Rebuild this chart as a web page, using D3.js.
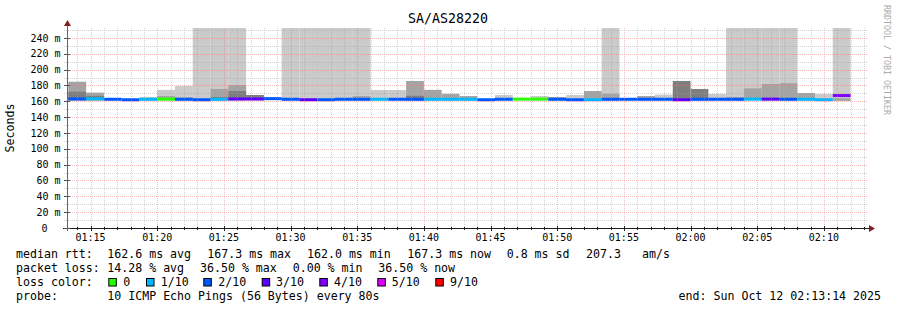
<!DOCTYPE html>
<html><head><meta charset="utf-8">
<script src="https://cdn.jsdelivr.net/npm/d3@7"></script>
<style>
body{margin:0;background:#fff}
svg{display:block}
text{font-family:"DejaVu Sans Mono",monospace;white-space:pre}
</style>
</head><body><svg id="c" width="897" height="310"></svg>
<script>
// ---------- data ----------
const title = "SA/AS28220";
const startTime = "01:13:14", endTime = "02:13:14";
const binSeconds = 80;
const binStart = ["01:13:20","01:14:40","01:16:00","01:17:20","01:18:40","01:20:00","01:21:20","01:22:40",
  "01:24:00","01:25:20","01:26:40","01:28:00","01:29:20","01:30:40","01:32:00","01:33:20","01:34:40",
  "01:36:00","01:37:20","01:38:40","01:40:00","01:41:20","01:42:40","01:44:00","01:45:20","01:46:40",
  "01:48:00","01:49:20","01:50:40","01:52:00","01:53:20","01:54:40","01:56:00","01:57:20","01:58:40",
  "02:00:00","02:01:20","02:02:40","02:04:00","02:05:20","02:06:40","02:08:00","02:09:20","02:10:40"];
// median rtt (ms)
const median = [163.0,163.2,162.6,162.0,162.6,162.8,162.6,162.0,162.6,163.0,163.0,163.4,162.6,162.0,162.0,
  162.6,162.6,162.6,162.6,162.6,162.6,162.6,162.6,162.0,162.6,162.8,162.8,162.6,162.0,162.0,162.6,162.6,
  162.6,162.6,162.0,162.6,162.6,162.6,162.8,162.8,162.6,162.6,162.0,167.3];
// lost pings (out of 10)
const loss = [1.5,0.9,1.5,1.6,0.9,0,1.5,1.6,0.9,2.6,2.6,1.4,1.5,2.7,1.6,1.5,1.5,0.9,1.5,1.5,0.9,0.8,0.9,
  1.6,1.5,0,0,1.5,1.6,1.0,1.5,1.5,1.5,1.5,2.7,1.5,1.4,1.5,0.9,2.6,1.5,0.9,1.0,3.65];
// smoke: lowest ping and tops of outer / middle / inner bands (ms), null = none
const smokeLow = [161.2,161.2,161.4,161.0,161.2,161.4,161.2,161.0,161.2,161.4,161.4,161.6,161.2,161.0,161.0,
  161.2,161.2,161.2,161.2,161.2,161.2,161.2,161.2,161.0,161.2,161.4,161.4,161.2,161.0,161.0,161.2,161.2,
  161.2,161.2,161.0,161.2,161.2,161.2,161.4,161.4,161.2,161.2,161.0,160.6];
const smokeOuter = [null,null,null,null,165.5,174.5,179.4,320,320,320,null,null,320,320,320,320,320,174.3,
  174.3,null,null,null,null,null,168,null,166.7,null,168,null,320,null,null,168.4,null,null,169.3,320,
  320,320,320,null,169.3,320];
const smokeMid = [184.8,171,null,null,null,166.7,165,null,175.6,180.6,null,null,null,null,null,null,166.7,
  null,null,185.7,174.5,169.5,166.7,null,null,null,null,165.5,null,173,169.5,null,166.7,null,null,null,
  null,165.5,176.4,181.9,183,170.5,null,164];
const smokeInner = [172.2,167,null,null,null,null,null,null,165.5,173,168,null,null,null,null,null,null,
  null,null,167,null,null,null,null,null,null,null,null,null,null,null,null,null,null,185.7,175.6,null,
  null,null,null,null,null,null,null];
const lossThresholds = [0,1,2,3,4,5,9];
const lossLabels = ["0","1/10","2/10","3/10","4/10","5/10","9/10"];
const lossColors = ["#26ff00","#00b8ff","#0059ff","#5e00ff","#7e00ff","#dd00ff","#ff0000"];
const yMax = 252.63;
const yTickVals = [0,20,40,60,80,100,120,140,160,180,200,220,240];
const legendLines = [
  [["median rtt:",16],["162.6 ms avg",107.3],["167.3 ms max",207.3],["162.0 ms min",307],["167.3 ms now",407.3],["0.8 ms sd",506.7],["207.3",586],["am/s",642]],
  [["packet loss:",16],["14.28 % avg",107.3],["36.50 % max",200],["0.00 % min",292.7],["36.50 % now",378.3]],
  [["loss color:",16]],
  [["probe:",16],["10 ICMP Echo Pings (56 Bytes) every 80s",107.3]]
];
const endText = "end: Sun Oct 12 02:13:14 2025";
const watermark = "RRDTOOL / TOBI OETIKER";

// ---------- chart ----------
const svg = d3.select("#c");
const T = s => { const [h,m,sec] = s.split(":").map(Number); return new Date(Date.UTC(2025,9,12,h,m,sec)); };
const t0 = T(startTime), t1 = T(endTime);
const x = d3.scaleUtc().domain([t0,t1]).range([67,867]);
const y = d3.scaleLinear().domain([0,yMax]).range([228,28]);
const px = v => Math.round(v)+0.5;

svg.append("defs").append("clipPath").attr("id","plot")
  .append("rect").attr("x",67).attr("y",28).attr("width",800).attr("height",200);

const bins = binStart.map((s,i)=>{
  const a = T(s), b = new Date(a.getTime()+binSeconds*1000);
  return {i, x0: Math.max(67, x(a)), x1: x(b)};
});

const plot = svg.append("g").attr("clip-path","url(#plot)");
const layers = [[smokeOuter,"#cacaca"],[smokeMid,"#a4a4a4"],[smokeInner,"#7e7e7e"]];
layers.forEach(([arr,col])=>{
  plot.append("g").selectAll("rect").data(bins.filter(b=>arr[b.i]!=null)).join("rect")
    .attr("x",b=>b.x0).attr("width",b=>b.x1-b.x0)
    .attr("y",b=>y(Math.min(arr[b.i],yMax+5)))
    .attr("height",b=>y(smokeLow[b.i])-y(Math.min(arr[b.i],yMax+5)))
    .attr("fill",col);
});

// grid
const majC = "rgba(235,120,120,0.5)", minC = "rgba(160,160,160,0.45)";
const grid = svg.append("g").attr("shape-rendering","crispEdges").attr("stroke-dasharray","1,1");
const minorMin = d3.utcMinute.range(t0,t1);
minorMin.forEach(t=>{
  const major = t.getUTCMinutes()%5===0;
  grid.append("line").attr("x1",px(x(t))).attr("x2",px(x(t))).attr("y1",28).attr("y2",228)
    .attr("stroke",major?majC:minC);
});
d3.range(10,yMax,10).forEach(v=>{
  const major = v%20===0;
  grid.append("line").attr("x1",64).attr("x2",868).attr("y1",px(y(v))).attr("y2",px(y(v)))
    .attr("stroke",major?majC:minC);
});

// median bands coloured by loss
const lossColor = l => { for (let k=0;k<lossThresholds.length;k++){ if (l<=lossThresholds[k]) return lossColors[k]; } return lossColors[lossColors.length-1]; };
plot.append("g").selectAll("rect").data(bins).join("rect")
  .attr("x",b=>b.x0).attr("width",b=>b.x1-b.x0)
  .attr("y",b=>y(median[b.i])-1.5).attr("height",3)
  .attr("fill",b=>lossColor(loss[b.i]));

// axes
const ax = svg.append("g").attr("shape-rendering","crispEdges");
ax.append("line").attr("x1",63).attr("x2",869).attr("y1",228.5).attr("y2",228.5).attr("stroke","#1f1f1f");
ax.append("line").attr("x1",67.5).attr("x2",67.5).attr("y1",231).attr("y2",24).attr("stroke","#666");
minorMin.forEach(t=>{
  const major = t.getUTCMinutes()%5===0;
  ax.append("line").attr("x1",px(x(t))).attr("x2",px(x(t))).attr("y1",major?226:227).attr("y2",major?231:230)
    .attr("stroke","#1f1f1f");
});
yTickVals.forEach(v=>{
  ax.append("line").attr("x1",64).attr("x2",70).attr("y1",px(y(v))).attr("y2",px(y(v))).attr("stroke","#555");
});
svg.append("path").attr("d","M67.5,20 L64,26 L71,26 Z").attr("fill","#801f1f");
svg.append("path").attr("d","M875,228.5 L869,225 L869,232 Z").attr("fill","#801f1f");

// tick labels
svg.append("g").selectAll("text").data(d3.utcMinute.every(5).range(t0,t1)).join("text")
  .attr("x",d=>x(d)).attr("y",241).attr("text-anchor","middle").attr("font-size","10px").attr("fill","#000")
  .text(d3.utcFormat("%H:%M"));
svg.append("g").selectAll("text").data(yTickVals).join("text")
  .attr("x",v=>v===0?47.5:60.5).attr("y",v=>y(v)+3.6).attr("text-anchor","end").attr("font-size","10px").attr("fill","#000")
  .text(v=>v===0?"0":v+" m");

// title, axis label, watermark
svg.append("text").attr("x",448).attr("y",23.3).attr("text-anchor","middle").attr("font-size","13.3px").text(title);
svg.append("text").attr("transform","translate(14,128) rotate(-90)").attr("text-anchor","middle")
  .attr("font-size","11.6px").text("Seconds");
svg.append("text").attr("transform","translate(884,5) rotate(90)").attr("font-size","8.3px")
  .attr("fill","#aaaaaa").text(watermark);

// legend
const lineY = [258.3,272.3,286.3,300.3];
legendLines.forEach((segs,li)=>{
  segs.forEach(([s,xx])=>svg.append("text").attr("x",xx).attr("y",lineY[li]).attr("font-size","11.6px").text(s));
});
const boxX = [108.3,146,203.3,261.7,319.3,377.3,435.3];
const labX = [123.3,160.7,218.3,276,334,391.7,450];
lossLabels.forEach((l,k)=>{
  svg.append("rect").attr("x",boxX[k]+0.5).attr("y",278.5).attr("width",7.5).attr("height",7.5)
    .attr("fill",lossColors[k]).attr("stroke","#000").attr("stroke-width",1);
  svg.append("text").attr("x",labX[k]).attr("y",lineY[2]).attr("font-size","11.6px").text(l);
});
svg.append("text").attr("x",881).attr("y",lineY[3]).attr("text-anchor","end").attr("font-size","11.6px").text(endText);
</script></body></html>
